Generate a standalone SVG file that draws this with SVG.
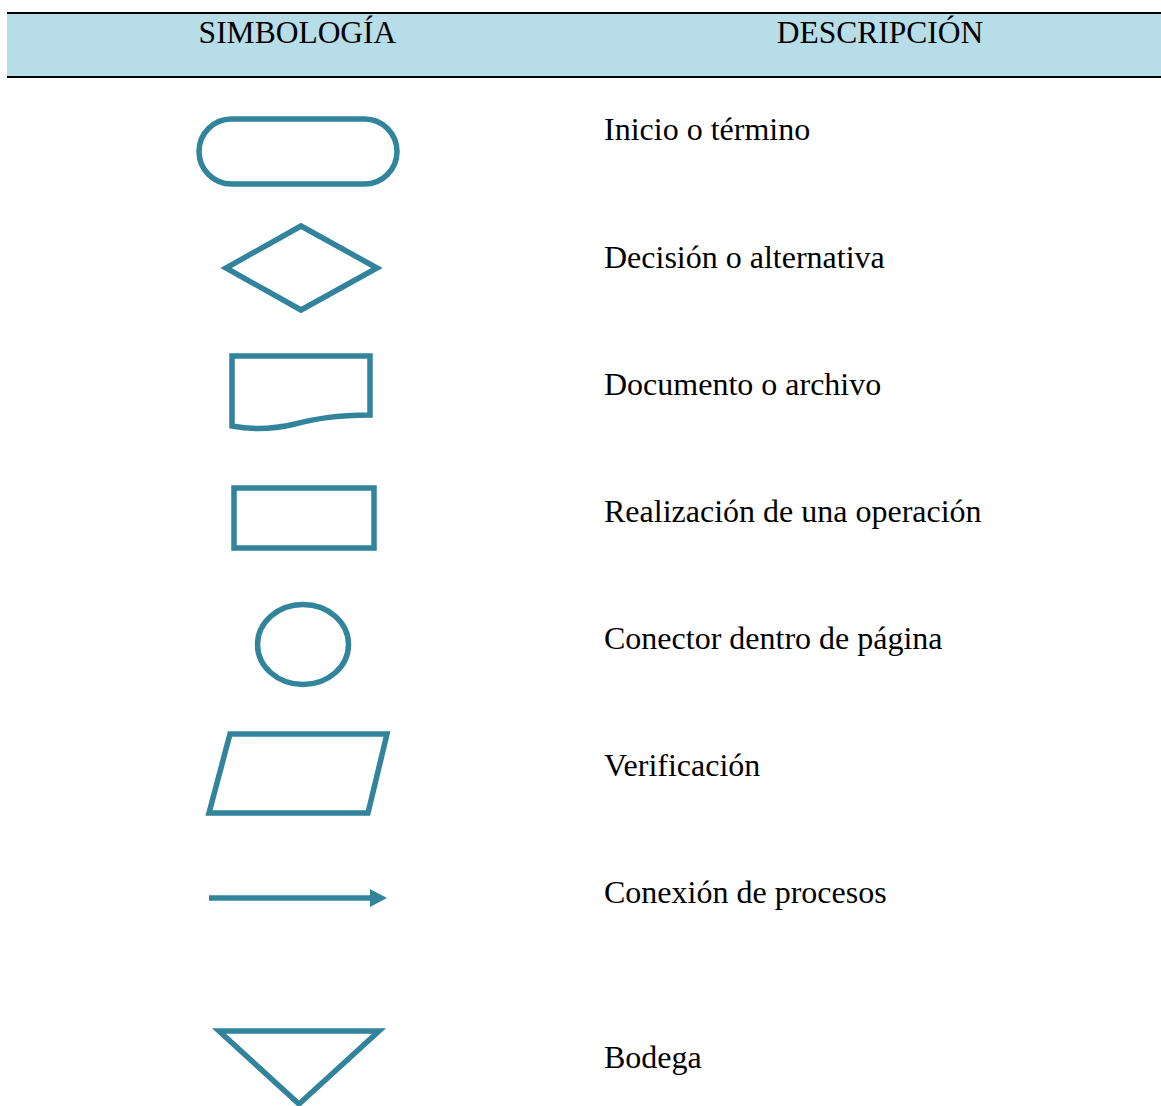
<svg xmlns="http://www.w3.org/2000/svg" width="1161" height="1106" viewBox="0 0 1161 1106">
<style>
.hdr{font-family:"Liberation Serif","Times New Roman",serif;font-size:31.5px;fill:#000;text-anchor:middle}
.desc{font-family:"Liberation Serif","Times New Roman",serif;font-size:32px;fill:#000}
.sym{fill:#fff;stroke:#31849B;stroke-width:5.5}
</style>
<rect width="1161" height="1106" fill="#fff"/>
<g id="header">
<rect x="7" y="13" width="1154" height="64" fill="#B7DDE8"/>
<line x1="7" y1="13" x2="1161" y2="13" stroke="#000" stroke-width="2"/>
<line x1="7" y1="77" x2="1161" y2="77" stroke="#000" stroke-width="2"/>
<text class="hdr" x="297.5" y="43">SIMBOLOGÍA</text>
<text class="hdr" x="880" y="43">DESCRIPCIÓN</text>
</g>
<g id="terminal">
<rect class="sym" x="199" y="119" width="198" height="65" rx="32.5"/>
<text class="desc" x="604" y="140">Inicio o término</text>
</g>
<g id="decision">
<polygon class="sym" points="301,226 377,268 301,310 226,268"/>
<text class="desc" x="604" y="268">Decisión o alternativa</text>
</g>
<g id="document">
<path class="sym" d="M232,356 H370 V415 C335,415 315,419 295,424 C270,430 252,430 232,426 Z"/>
<text class="desc" x="604" y="395">Documento o archivo</text>
</g>
<g id="process">
<rect class="sym" x="234" y="488" width="140" height="60"/>
<text class="desc" x="604" y="522">Realización de una operación</text>
</g>
<g id="connector">
<ellipse class="sym" cx="303" cy="644.5" rx="45.5" ry="40"/>
<text class="desc" x="604" y="649">Conector dentro de página</text>
</g>
<g id="verification">
<polygon class="sym" points="230,734 387,734 368,813 209,813"/>
<text class="desc" x="604" y="776">Verificación</text>
</g>
<g id="connectors">
<line x1="209" y1="898" x2="372" y2="898" stroke="#31849B" stroke-width="5.5"/>
<polygon points="370,889 387,898 370,907" fill="#31849B"/>
</g>
<g id="flow-label">
<text class="desc" x="604" y="903">Conexión de procesos</text>
</g>
<g id="storage">
<polygon class="sym" points="219,1031 379,1031 299,1104"/>
<text class="desc" x="604" y="1068">Bodega</text>
</g>
</svg>
